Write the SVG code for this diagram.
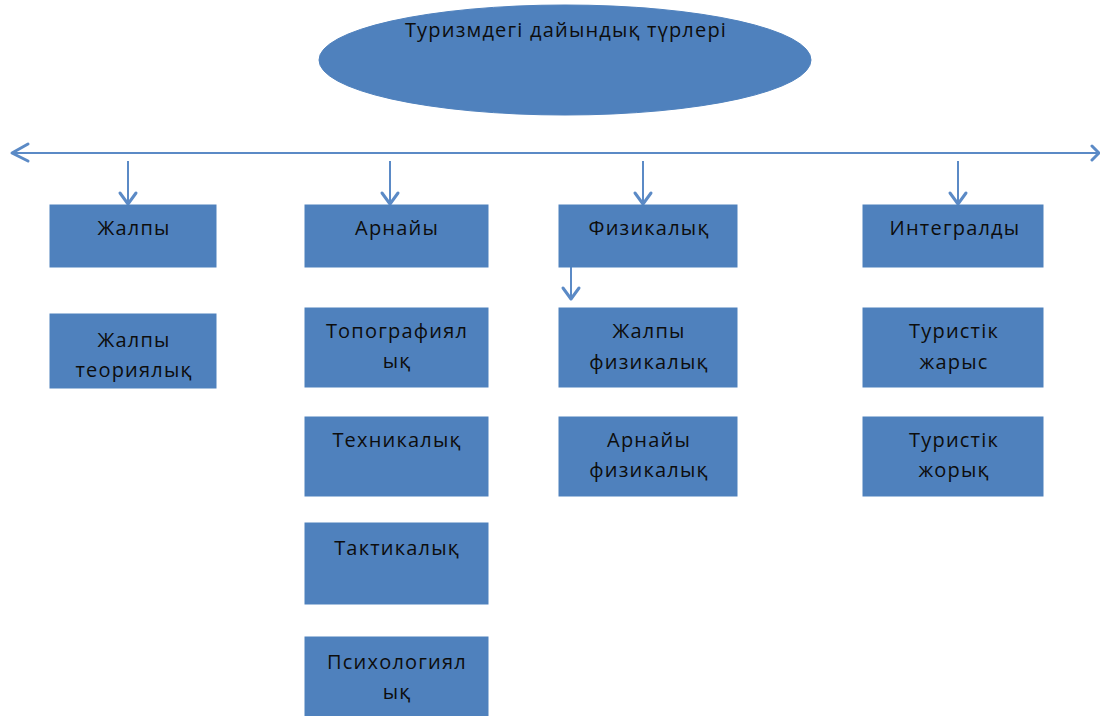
<svg xmlns="http://www.w3.org/2000/svg" width="1100" height="716" viewBox="0 0 1100 716">
  <defs>
    <style>
      .box { fill: #4F81BD; stroke: #4F81BD; stroke-width: 1; }
      .lbl { font-family: "Open Sans", "DejaVu Sans", sans-serif; font-size: 20px; letter-spacing: 1.2px; fill: #0d0d0d; text-anchor: middle; }
      .ln { stroke: #5B8AC6; stroke-width: 2; fill: none; }
      .hd { stroke: #5B8AC6; stroke-width: 3; fill: none; stroke-linecap: round; stroke-linejoin: round; }
    </style>
  </defs>
  <rect width="1100" height="716" fill="#FFFFFF"/>

  <!-- root -->
  <g id="root">
    <ellipse cx="565" cy="60" rx="246" ry="55" class="box"/>
    <text x="566" y="37" class="lbl">Туризмдегі дайындық түрлері</text>
  </g>

  <!-- connectors -->
  <g id="connectors">
    <line x1="12" y1="153" x2="1098" y2="153" class="ln"/>
    <polyline points="28,144 12,153 28,161" class="hd"/>
    <polyline points="1092,146 1099,153 1092,160" class="hd"/>

    <line x1="128" y1="161" x2="128" y2="203" class="ln"/>
    <polyline points="120,193 128,204 136,193" class="hd"/>

    <line x1="390" y1="161" x2="390" y2="203" class="ln"/>
    <polyline points="382,193 390,204 398,193" class="hd"/>

    <line x1="643" y1="161" x2="643" y2="203" class="ln"/>
    <polyline points="635,193 643,204 651,193" class="hd"/>

    <line x1="958" y1="161" x2="958" y2="203" class="ln"/>
    <polyline points="950,193 958,204 966,193" class="hd"/>

    <line x1="571" y1="267" x2="571" y2="298" class="ln"/>
    <polyline points="563,288 571,299 579,288" class="hd"/>
  </g>

  <!-- column 1 -->
  <g id="zhalpy">
    <rect x="50" y="205" width="166" height="62" class="box"/>
    <text x="134" y="235" class="lbl">Жалпы</text>
  </g>
  <g id="zhalpy-teoriyalyq">
    <rect x="50" y="314" width="166" height="74" class="box"/>
    <text x="134" y="347" class="lbl">Жалпы</text>
    <text x="134" y="377" class="lbl">теориялық</text>
  </g>

  <!-- column 2 -->
  <g id="arnaiy">
    <rect x="305" y="205" width="183" height="62" class="box"/>
    <text x="397" y="235" class="lbl">Арнайы</text>
  </g>
  <g id="topografiyalyq">
    <rect x="305" y="308" width="183" height="79" class="box"/>
    <text x="397" y="338" class="lbl">Топографиял</text>
    <text x="397" y="368" class="lbl">ық</text>
  </g>
  <g id="tekhnikalyq">
    <rect x="305" y="417" width="183" height="79" class="box"/>
    <text x="397" y="447" class="lbl">Техникалық</text>
  </g>
  <g id="taktikalyq">
    <rect x="305" y="523" width="183" height="81" class="box"/>
    <text x="397" y="555" class="lbl">Тактикалық</text>
  </g>
  <g id="psikhologiyalyq">
    <rect x="305" y="637" width="183" height="79" class="box"/>
    <text x="397" y="669" class="lbl">Психологиял</text>
    <text x="397" y="699" class="lbl">ық</text>
  </g>

  <!-- column 3 -->
  <g id="fizikalyq">
    <rect x="559" y="205" width="178" height="62" class="box"/>
    <text x="649" y="235" class="lbl">Физикалық</text>
  </g>
  <g id="zhalpy-fizikalyq">
    <rect x="559" y="308" width="178" height="79" class="box"/>
    <text x="649" y="338" class="lbl">Жалпы</text>
    <text x="649" y="369" class="lbl">физикалық</text>
  </g>
  <g id="arnaiy-fizikalyq">
    <rect x="559" y="417" width="178" height="79" class="box"/>
    <text x="649" y="447" class="lbl">Арнайы</text>
    <text x="649" y="477" class="lbl">физикалық</text>
  </g>

  <!-- column 4 -->
  <g id="integraldy">
    <rect x="863" y="205" width="180" height="62" class="box"/>
    <text x="955" y="235" class="lbl">Интегралды</text>
  </g>
  <g id="turistik-zharys">
    <rect x="863" y="308" width="180" height="79" class="box"/>
    <text x="954" y="338" class="lbl">Туристік</text>
    <text x="954" y="369" class="lbl">жарыс</text>
  </g>
  <g id="turistik-zhoryq">
    <rect x="863" y="417" width="180" height="79" class="box"/>
    <text x="954" y="447" class="lbl">Туристік</text>
    <text x="954" y="477" class="lbl">жорық</text>
  </g>
</svg>
